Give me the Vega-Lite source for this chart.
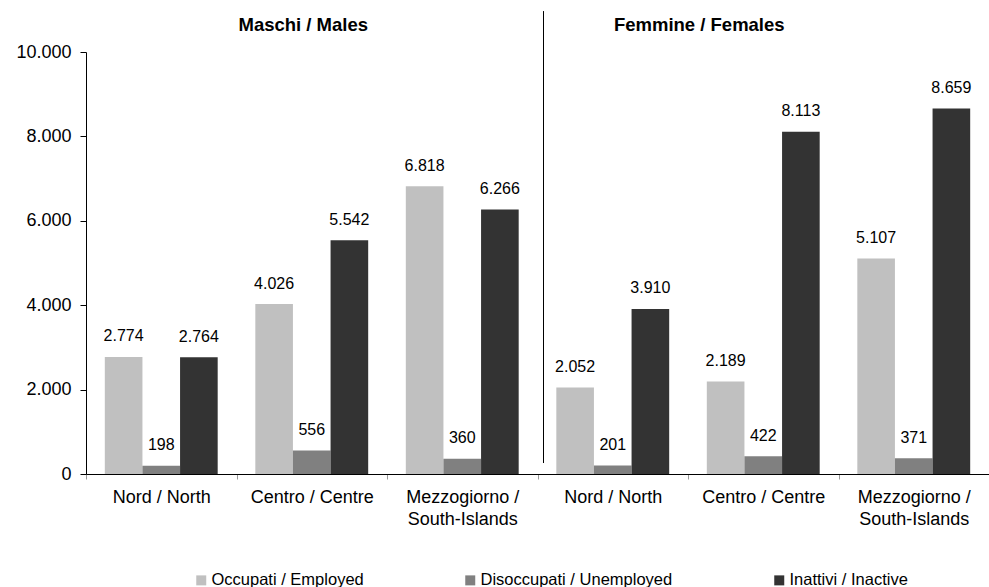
{
  "$schema": "https://vega.github.io/schema/vega-lite/v6.json",
  "width": 903,
  "height": 422,
  "autosize": {"type": "none"},
  "padding": {"left": 86, "top": 52, "right": 0, "bottom": 113},
  "background": "white",
  "config": {
    "font": "Liberation Sans",
    "view": {"stroke": null},
    "locale": {"number": {"decimal": ",", "thousands": ".", "grouping": [3], "currency": ["", " €"]}}
  },
  "data": {
    "values": [
      {"cat": "Nord / North|M", "status": "Occupati / Employed", "value": 2774},
      {"cat": "Nord / North|M", "status": "Disoccupati / Unemployed", "value": 198},
      {"cat": "Nord / North|M", "status": "Inattivi / Inactive", "value": 2764},
      {"cat": "Centro / Centre|M", "status": "Occupati / Employed", "value": 4026},
      {"cat": "Centro / Centre|M", "status": "Disoccupati / Unemployed", "value": 556},
      {"cat": "Centro / Centre|M", "status": "Inattivi / Inactive", "value": 5542},
      {"cat": "Mezzogiorno / South-Islands|M", "status": "Occupati / Employed", "value": 6818},
      {"cat": "Mezzogiorno / South-Islands|M", "status": "Disoccupati / Unemployed", "value": 360},
      {"cat": "Mezzogiorno / South-Islands|M", "status": "Inattivi / Inactive", "value": 6266},
      {"cat": "Nord / North|F", "status": "Occupati / Employed", "value": 2052},
      {"cat": "Nord / North|F", "status": "Disoccupati / Unemployed", "value": 201},
      {"cat": "Nord / North|F", "status": "Inattivi / Inactive", "value": 3910},
      {"cat": "Centro / Centre|F", "status": "Occupati / Employed", "value": 2189},
      {"cat": "Centro / Centre|F", "status": "Disoccupati / Unemployed", "value": 422},
      {"cat": "Centro / Centre|F", "status": "Inattivi / Inactive", "value": 8113},
      {"cat": "Mezzogiorno / South-Islands|F", "status": "Occupati / Employed", "value": 5107},
      {"cat": "Mezzogiorno / South-Islands|F", "status": "Disoccupati / Unemployed", "value": 371},
      {"cat": "Mezzogiorno / South-Islands|F", "status": "Inattivi / Inactive", "value": 8659}
    ]
  },
  "encoding": {
    "x": {
      "field": "cat", "type": "nominal",
      "sort": ["Nord / North|M", "Centro / Centre|M", "Mezzogiorno / South-Islands|M", "Nord / North|F", "Centro / Centre|F", "Mezzogiorno / South-Islands|F"],
      "scale": {"paddingInner": 0, "paddingOuter": 0},
      "axis": {
        "title": null, "labelAngle": 0, "tickBand": "extent",
        "domainColor": "#000000", "tickColor": "#999999", "tickSize": 5,
        "labelFontSize": 18, "labelColor": "#000000", "labelPadding": 9, "labelLineHeight": 22,
        "labelExpr": "isString(datum.value) ? (indexof(datum.value, 'Mezzogiorno') >= 0 ? ['Mezzogiorno /', 'South-Islands'] : split(datum.value, '|')[0]) : ''"
      }
    }
  },
  "layer": [
    {
      "mark": {"type": "bar"},
      "encoding": {
        "xOffset": {
          "field": "status", "type": "nominal",
          "sort": ["Occupati / Employed", "Disoccupati / Unemployed", "Inattivi / Inactive"],
          "scale": {"paddingInner": 0, "paddingOuter": 0.5}
        },
        "y": {
          "field": "value", "type": "quantitative",
          "scale": {"domain": [0, 10000], "nice": false},
          "axis": {
            "title": null, "grid": false, "values": [0, 2000, 4000, 6000, 8000, 10000],
            "format": ",d", "domainColor": "#000000", "tickColor": "#000000", "tickSize": 6,
            "labelFontSize": 18, "labelColor": "#000000", "labelPadding": 9
          }
        },
        "color": {
          "field": "status", "type": "nominal",
          "sort": ["Occupati / Employed", "Disoccupati / Unemployed", "Inattivi / Inactive"],
          "scale": {"range": ["#C0C0C0", "#808080", "#333333"]},
          "legend": {
            "title": null, "orient": "none", "legendX": 107, "legendY": 520,
            "direction": "horizontal", "columnPadding": 98, "padding": 0,
            "symbolType": "square", "symbolSize": 100, "symbolStrokeWidth": 0,
            "labelFontSize": 16.5, "labelColor": "#000000", "labelOffset": 2, "labelLimit": 400
          }
        }
      }
    },
    {
      "mark": {"type": "text", "baseline": "alphabetic", "dy": -15.5, "fontSize": 16, "color": "#000000"},
      "encoding": {
        "xOffset": {"field": "status", "type": "nominal", "sort": ["Occupati / Employed", "Disoccupati / Unemployed", "Inattivi / Inactive"]},
        "y": {"field": "value", "type": "quantitative"},
        "text": {"field": "value", "type": "quantitative", "format": ",d"}
      }
    },
    {
      "data": {"values": [{"cat": "Nord / North|F", "value": 260, "value2": 10970}]},
      "mark": {"type": "rule", "color": "#000000", "strokeWidth": 1},
      "encoding": {
        "x": {"field": "cat", "type": "nominal", "bandPosition": 0.03987, "sort": ["Nord / North|M", "Centro / Centre|M", "Mezzogiorno / South-Islands|M", "Nord / North|F", "Centro / Centre|F", "Mezzogiorno / South-Islands|F"]},
        "y": {"field": "value", "type": "quantitative"},
        "y2": {"field": "value2"}
      }
    },
    {
      "data": {"values": [{"cat": "Centro / Centre|M", "label": "Maschi / Males", "value": 10640}]},
      "mark": {"type": "text", "fontWeight": "bold", "fontSize": 18.5, "baseline": "middle", "dx": -8.5, "color": "#000000"},
      "encoding": {
        "y": {"field": "value", "type": "quantitative"},
        "text": {"field": "label"}
      }
    },
    {
      "data": {"values": [{"cat": "Centro / Centre|F", "label": "Femmine / Females", "value": 10640}]},
      "mark": {"type": "text", "fontWeight": "bold", "fontSize": 18.5, "baseline": "middle", "dx": -64, "color": "#000000"},
      "encoding": {
        "y": {"field": "value", "type": "quantitative"},
        "text": {"field": "label"}
      }
    }
  ]
}
